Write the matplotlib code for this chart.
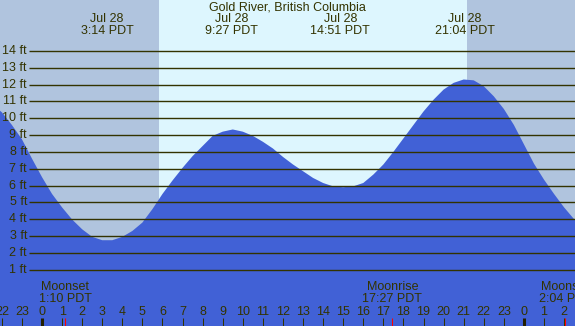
import matplotlib
matplotlib.use('Agg')
import matplotlib.pyplot as plt

# ---------------- data ----------------
title = "Gold River, British Columbia"

# tide height (ft), hours relative to Jul 28 00:00 PDT
hours = [-2.1, -2.0, -1.5, -1.0, -0.5, 0.0, 0.5, 1.0, 1.5, 2.0, 2.5, 3.0, 3.5,
         4.0, 4.5, 5.0, 5.5, 6.0, 6.5, 7.0, 7.5, 8.0, 8.5, 9.0, 9.5, 10.0,
         10.5, 11.0, 11.5, 12.0, 12.5, 13.0, 13.5, 14.0, 14.5, 15.0, 15.5,
         16.0, 16.5, 17.0, 17.5, 18.0, 18.5, 19.0, 19.5, 20.0, 20.5, 21.0,
         21.5, 22.0, 22.5, 23.0, 23.5, 24.0, 24.5, 25.0, 25.5, 26.0, 26.5, 26.6]
heights = [10.45, 10.35, 9.6, 8.75, 7.6, 6.5, 5.5, 4.7, 3.98, 3.4, 2.95, 2.75, 2.75,
           2.95, 3.3, 3.8, 4.6, 5.5, 6.3, 7.05, 7.75, 8.35, 8.95, 9.2, 9.33, 9.2,
           8.95, 8.6, 8.2, 7.7, 7.25, 6.85, 6.45, 6.15, 5.95, 5.9, 5.95,
           6.15, 6.65, 7.25, 8.0, 8.8, 9.6, 10.4, 11.1, 11.7, 12.1, 12.3,
           12.25, 11.9, 11.3, 10.55, 9.6, 8.45, 7.3, 6.35, 5.5, 4.7, 4.0, 3.9]

extreme_date = "Jul 28"
extreme_labels = ["3:14 PDT", "9:27 PDT", "14:51 PDT", "21:04 PDT"]
extreme_hours = [3 + 14 / 60, 9 + 27 / 60, 14 + 51 / 60, 21 + 4 / 60]

moon_events = ["Moonset", "Moonrise", "Moonset"]
moon_labels = ["1:10 PDT", "17:27 PDT", "2:04 PDT"]
moon_hours = [1 + 10 / 60, 17 + 27 / 60, 24 + 2 + 4 / 60]

sunrise, sunset = 5.83, 21.17
ft_levels = list(range(1, 15))
hour_ticks = list(range(-2, 27))

# ---------------- layout ----------------
W, H = 575, 326
PX_HR = 20.08      # pixels per hour
X_MID = 42.0       # pixel x of Jul 28 00:00
PX_FT = 16.83      # pixels per foot
Y0 = 286.5         # pixel y of 0 ft


def hx(px):
    return (px - X_MID) / PX_HR


def fy(py):
    return (Y0 - py) / PX_FT


NIGHT = '#b0c4de'
DAY = '#ddf6fe'
WATER = '#4161d6'
INK = '#333300'
FONT = 'Liberation Sans'

fig = plt.figure(figsize=(W / 100, H / 100), dpi=100)
ax = fig.add_axes([0, 0, 1, 1])
x_lo, x_hi = hx(0), hx(W)
y_lo, y_hi = fy(H), fy(0)
ax.set_xlim(x_lo, x_hi)
ax.set_ylim(y_lo, y_hi)
ax.set_axis_off()

ax.axvspan(x_lo, x_hi, color=NIGHT, lw=0, zorder=0)
ax.axvspan(sunrise, sunset, color=DAY, lw=0, zorder=0.5)

ax.fill_between(hours, y_lo, heights, color=WATER, lw=0, zorder=1)

# horizontal ft lines and labels
ax.hlines(ft_levels, hx(29), x_hi, color=INK, lw=1.0, zorder=2)
for f in ft_levels:
    ax.text(hx(27), f, f"{f} ft", ha='right', va='center', fontsize=9,
            family=FONT, color=INK, zorder=3)

# title and extremes
ax.text(hx(287.5), fy(7.5), title, ha='center', va='center', fontsize=9,
        family=FONT, color=INK, zorder=3)
for h, lab in zip(extreme_hours, extreme_labels):
    ax.text(h, fy(19.5), extreme_date, ha='center', va='center', fontsize=9,
            family=FONT, color=INK, zorder=3)
    ax.text(h, fy(31.5), lab, ha='center', va='center', fontsize=9,
            family=FONT, color=INK, zorder=3)

# hour ticks
for h in hour_ticks:
    lw = 2.2 if h % 24 == 0 else 0.75
    ax.vlines(h, fy(326), fy(318), color=INK if h % 24 else '#221f00', lw=lw, zorder=2)
    ax.text(h, fy(312), str(h % 24), ha='center', va='center', fontsize=9,
            family=FONT, color=INK, zorder=3)

# moon events
for h, ev, lab in zip(moon_hours, moon_events, moon_labels):
    ax.vlines(h, fy(326), fy(318), color='#ff0000', lw=0.75, zorder=2)
    ax.text(h, fy(287.5), ev, ha='center', va='center', fontsize=9,
            family=FONT, color=INK, zorder=3)
    ax.text(h, fy(299), lab, ha='center', va='center', fontsize=9,
            family=FONT, color=INK, zorder=3)

fig.savefig('out.png', dpi=100)
